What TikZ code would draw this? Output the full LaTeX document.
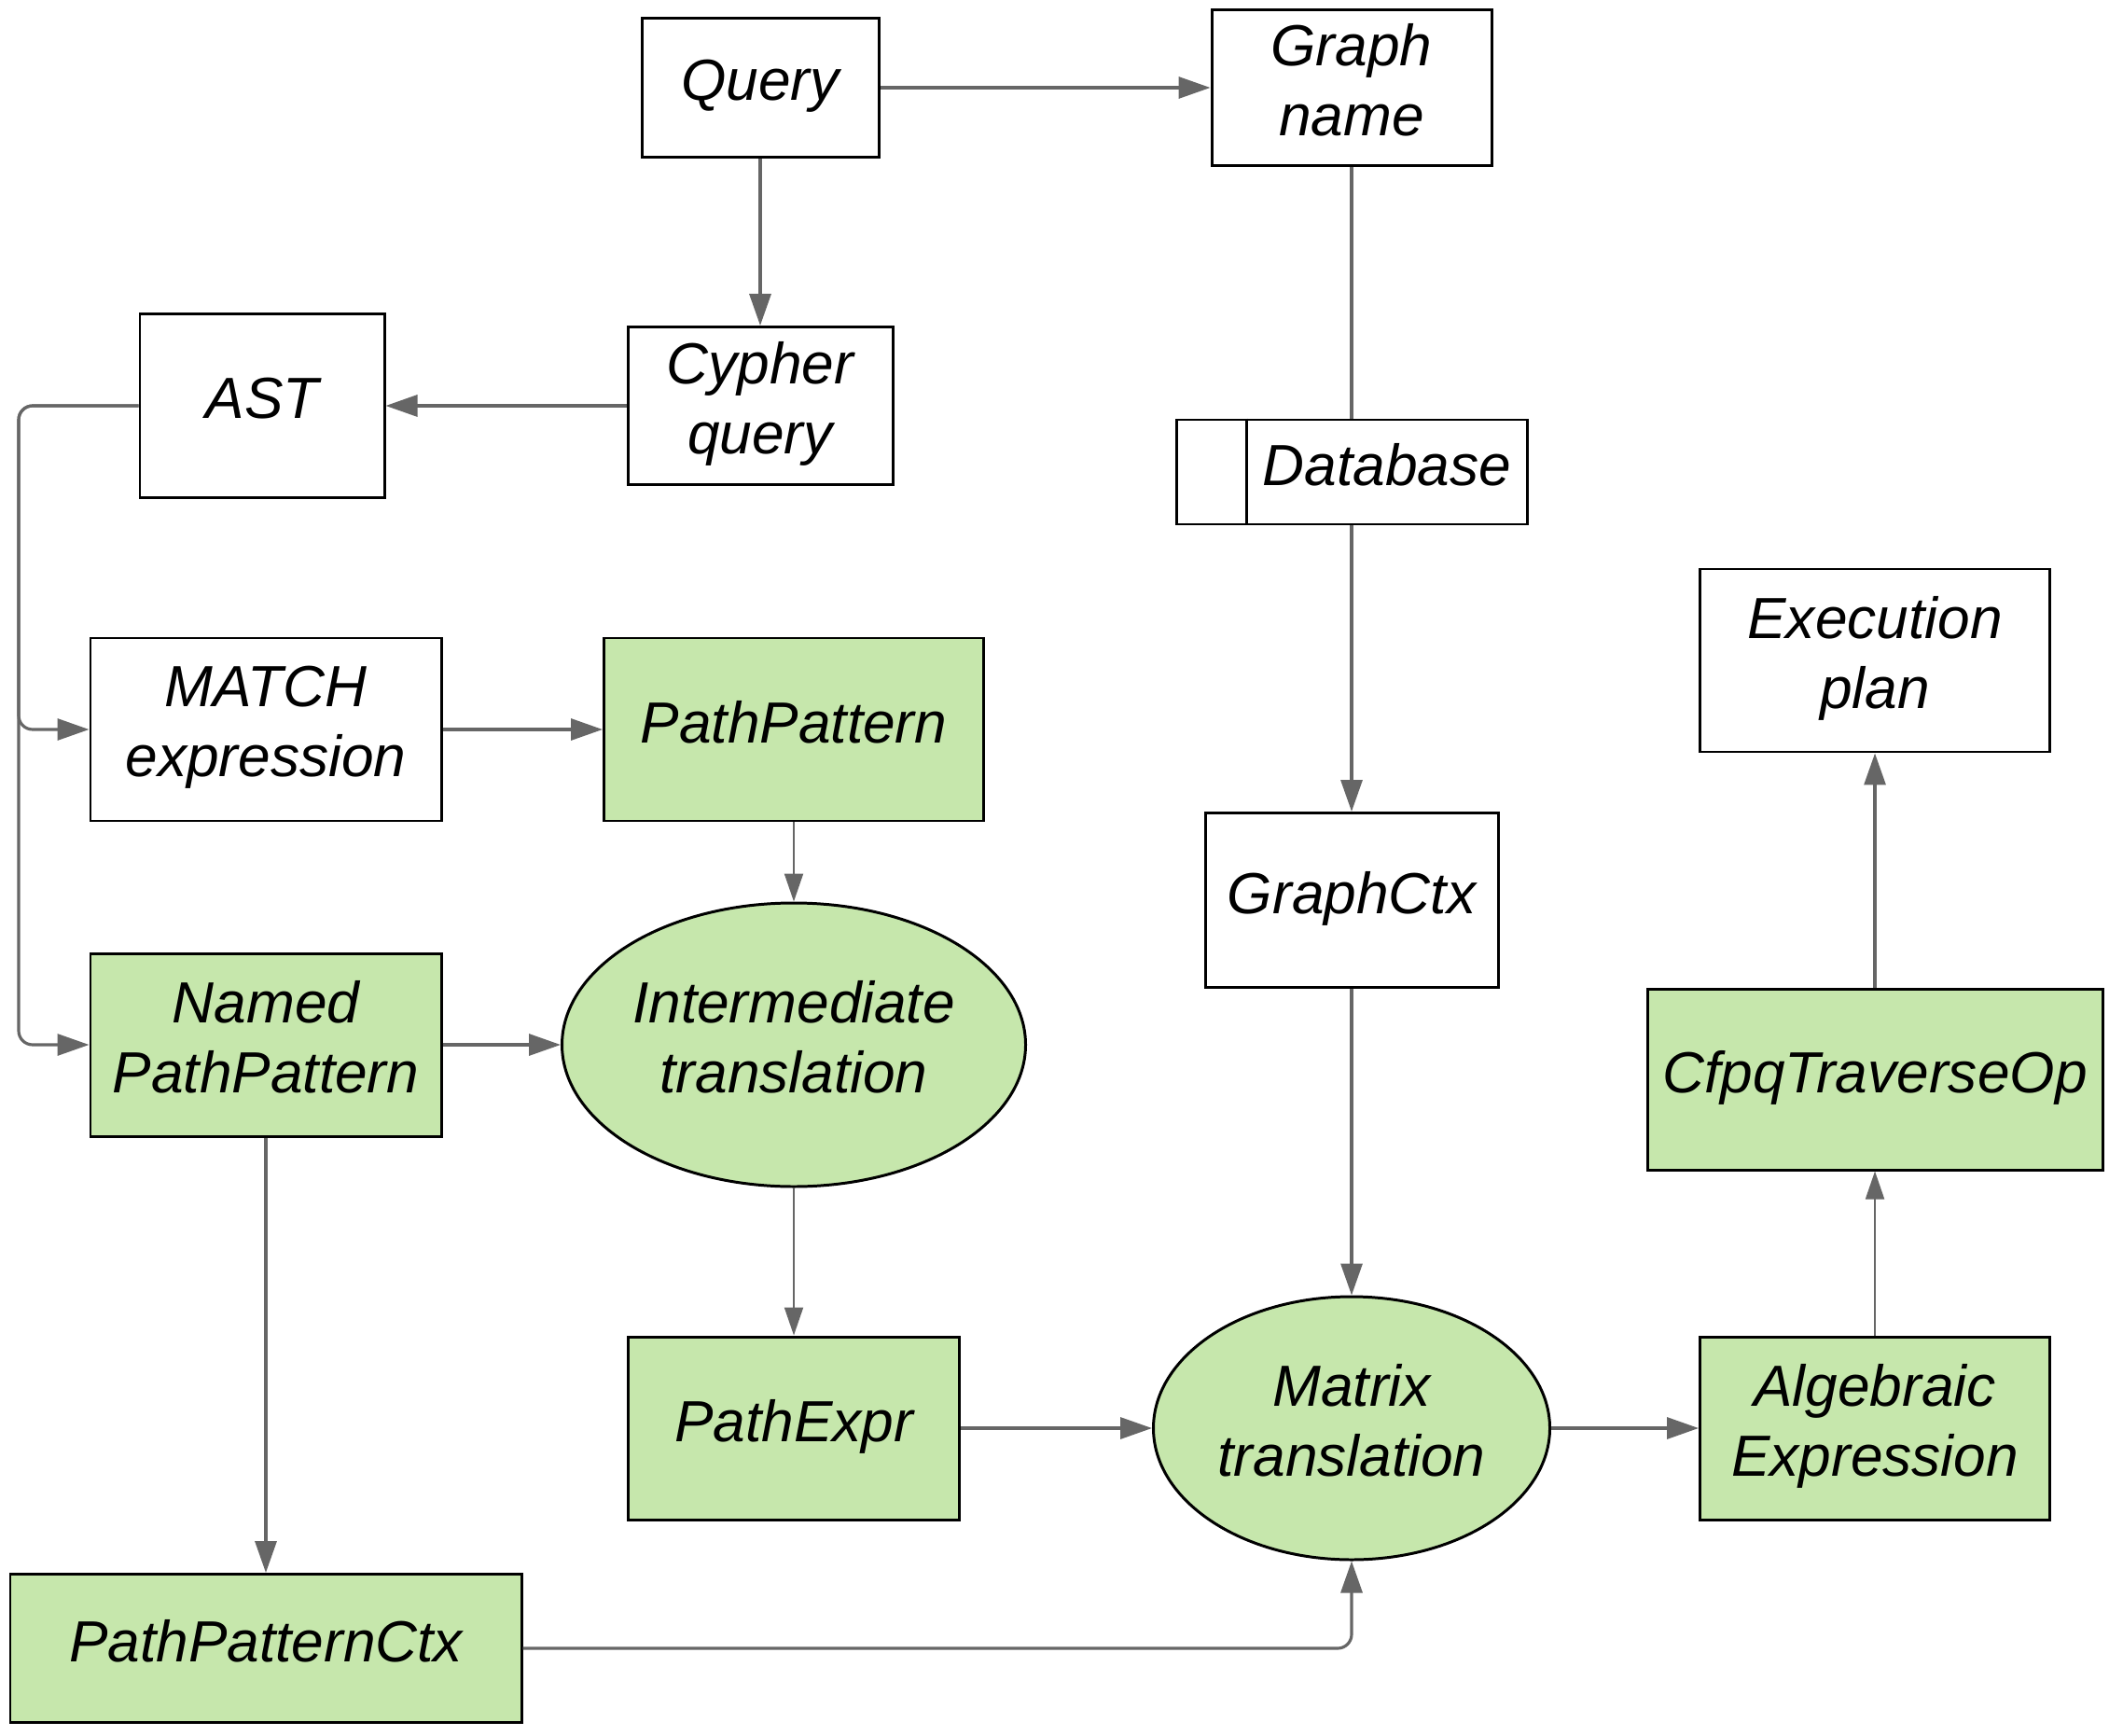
\documentclass[tikz,border=0pt]{standalone}
\usepackage{fontspec}
\setmainfont{Liberation Sans}
\usetikzlibrary{arrows.meta,shapes.geometric}
\definecolor{opgreen}{RGB}{198,231,172}
\definecolor{wiregray}{RGB}{102,102,102}
\tikzset{
	lbl/.style={align=center, inner sep=0pt, text depth=0.17cm,
		font=\itshape\fontsize{17.7}{21.4}\selectfont},
	box/.style={lbl, draw=black, line width=0.85pt, fill=white},
	gbox/.style={box, fill=opgreen},
	oval/.style={gbox, ellipse},
	wire/.style={draw=wiregray, line width=0.9pt, -{Triangle[length=3.4mm,width=2.3mm]}},
	thinwire/.style={draw=wiregray, line width=0.6pt, -{Triangle[length=3mm,width=2mm]}}
}

\begin{document}
\begin{tikzpicture}
		%%%%% START %%%%%
		\useasboundingbox (0, 0) rectangle (22.76, -18.60);
		
		\node[box, minimum width=2.54cm, minimum height=1.49cm] (query) at (8.15, -0.94) {Query};
		\node[box, minimum width=3.00cm, minimum height=1.67cm] (gname) at (14.49, -0.94) {Graph\\name};
		\node[box, minimum width=2.62cm, minimum height=1.97cm] (ast) at (2.81, -4.35) {AST};
		\node[box, minimum width=2.84cm, minimum height=1.69cm] (cypher) at (8.15, -4.35) {Cypher\\query};
		
		\node[box, minimum width=3.76cm, minimum height=1.12cm] (db) at (14.49, -5.06) {};
		\draw[line width=0.85pt] ([xshift=0.77cm]db.north west) -- ([xshift=0.77cm]db.south west);
		\node[lbl] (dbtext) at (14.87, -5.06) {Database};
		
		\node[box, minimum width=3.75cm, minimum height=1.96cm] (exec) at (20.10, -7.08) {Execution\\plan};
		\node[box, minimum width=3.76cm, minimum height=1.96cm] (match) at (2.85, -7.82) {MATCH\\expression};
		\node[gbox, minimum width=4.07cm, minimum height=1.96cm] (ppat) at (8.51, -7.82) {PathPattern};
		\node[box, minimum width=3.14cm, minimum height=1.87cm] (gctx) at (14.49, -9.65) {GraphCtx};
		
		\node[gbox, minimum width=3.76cm, minimum height=1.96cm] (named) at (2.85, -11.20) {Named\\PathPattern};
		\node[oval, minimum width=4.97cm, minimum height=3.04cm] (inter) at (8.51, -11.20) {Intermediate\\translation};
		\node[gbox, minimum width=4.88cm, minimum height=1.94cm] (cfpq) at (20.10, -11.57) {CfpqTraverseOp};
		
		\node[gbox, minimum width=3.55cm, minimum height=1.96cm] (pexpr) at (8.51, -15.31) {PathExpr};
		\node[oval, minimum width=4.25cm, minimum height=2.82cm] (mtrans) at (14.49, -15.31) {Matrix\\translation};
		\node[gbox, minimum width=3.75cm, minimum height=1.96cm] (alg) at (20.10, -15.31) {Algebraic\\Expression};
		
		\node[gbox, minimum width=5.48cm, minimum height=1.59cm] (ppctx) at (2.85, -17.67) {PathPatternCtx};
		
		\coordinate (trunk) at (0.20, -4.35);
		
		% connectors
		\draw[wire] (query) -- (gname);
		\draw[wire] (query) -- (cypher);
		\draw[wire] (cypher) -- (ast);
		\draw[wire, -] (gname) -- (db);
		\draw[wire] (db) -- (gctx);
		\draw[wire] (gctx) -- (mtrans);
		
		\draw[wire, rounded corners=1.5mm] (ast.west) -- (trunk) |- (match.west);
		\draw[wire, rounded corners=1.5mm] (ast.west) -- (trunk) |- (named.west);
		\draw[wire] (match) -- (ppat);
		\draw[thinwire] (ppat) -- (inter);
		\draw[wire] (named) -- (inter);
		\draw[wire] (named) -- (ppctx);
		\draw[thinwire] (inter) -- (pexpr);
		\draw[wire] (pexpr) -- (mtrans);
		\draw[wire, rounded corners=1.5mm] (ppctx.east) -| (mtrans.south);
		\draw[wire] (mtrans) -- (alg);
		\draw[thinwire] (alg) -- (cfpq);
		\draw[wire] (cfpq) -- (exec);
		
		%%%%% END %%%%%
	\end{tikzpicture}
\end{document}
